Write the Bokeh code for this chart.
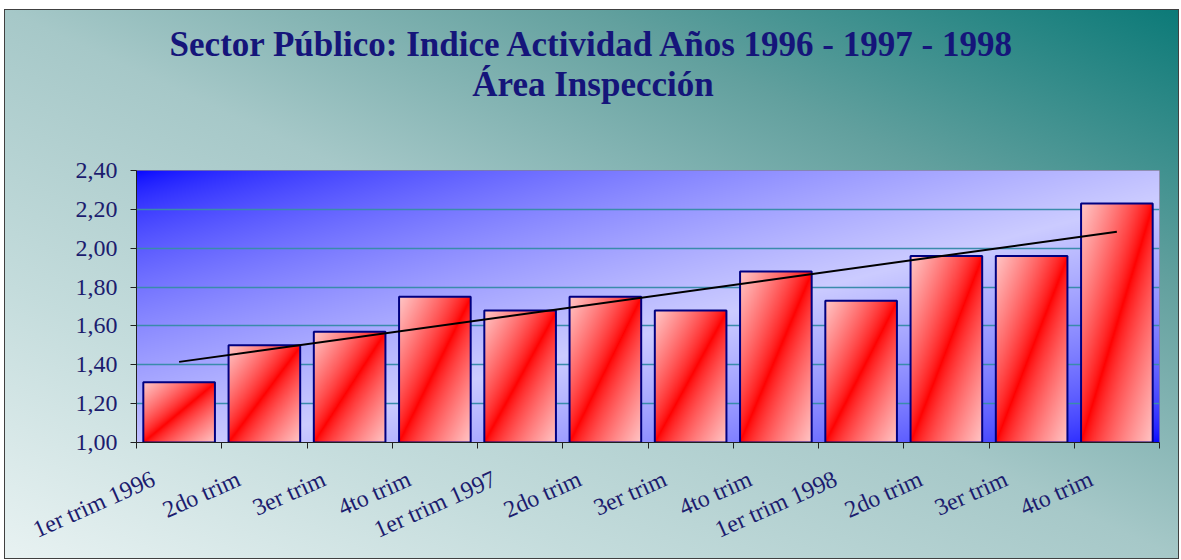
import numpy as np
from bokeh.plotting import figure
from bokeh.layouts import column
from bokeh.models import FixedTicker, Label, Range1d
from bokeh.embed import file_html
from bokeh.resources import INLINE

# ---------------- data ----------------
categories = ["1er trim 1996", "2do trim", "3er trim", "4to trim",
              "1er trim 1997", "2do trim", "3er trim", "4to trim",
              "1er trim 1998", "2do trim", "3er trim", "4to trim"]
values = [1.31, 1.50, 1.57, 1.75, 1.68, 1.75, 1.68, 1.88, 1.73, 1.96, 1.96, 2.23]
y_ticks = [1.0, 1.2, 1.4, 1.6, 1.8, 2.0, 2.2, 2.4]
y_tick_labels = ["1,00", "1,20", "1,40", "1,60", "1,80", "2,00", "2,20", "2,40"]
title_line1 = "Sector Público: Indice Actividad Años 1996 - 1997 - 1998"
title_line2 = "Área Inspección"

# ---------------- layout constants ----------------
W, H = 1173, 548           # whole chart box
HT = 100                   # title strip height
H2 = H - HT                # plot figure height
ML, MR, MT, MB = 131, 19, 60, 116
FW, FH = W - ML - MR, H2 - MT - MB
STEP = 10                  # x units per category
BAR_W = 8.4
Y0, Y1 = 1.0, 2.4
X0, X1 = 0, STEP * len(categories)
TXT = "#1c1c6e"
TITLE_C = "#15157a"

n = len(categories)
centers = [STEP * i + STEP / 2 for i in range(n)]
label_ticks = [STEP * i + 2 for i in range(n)]
boundaries = [STEP * i for i in range(n + 1)]

# ---------------- title strip ----------------
t = figure(width=W, height=HT, output_backend="svg", toolbar_location=None,
           x_range=Range1d(ML, W - MR), y_range=Range1d(0, HT),
           x_axis_type=None, y_axis_type=None,
           min_border_left=ML, min_border_right=MR,
           min_border_top=0, min_border_bottom=0)
t.grid.visible = False
t.outline_line_color = None
t.border_fill_color = None
t.background_fill_color = None
for txt, base in ((title_line1, 34), (title_line2, 74)):
    t.add_layout(Label(x=W / 2 + 1, y=HT - base, text=txt, text_align="center",
                       text_baseline="alphabetic", text_font="Liberation Serif",
                       text_font_style="bold", text_font_size="35px",
                       text_color=TITLE_C))

# ---------------- chart ----------------
p = figure(width=W, height=H2, output_backend="svg", toolbar_location=None,
           x_range=Range1d(X0, X1), y_range=Range1d(Y0, Y1),
           min_border_left=ML, min_border_right=MR,
           min_border_top=MT, min_border_bottom=MB)
p.border_fill_color = None
p.background_fill_color = None
p.outline_line_color = "#80809a"
p.outline_line_width = 1

# frame gradient: blue corners, light diagonal band
u = (np.arange(FW) + 0.5) / FW
vt = 1 - (np.arange(FH) + 0.5) / FH          # row 0 = bottom
U, V = np.meshgrid(u, vt)
s = (U + V) / 2
c = 0.55
f = np.where(s < c, s / c, (1 - s) / (1 - c))
f = np.clip(f, 0, 1) ** 0.6
blue = np.array([0, 0, 255.0])
light = np.array([204, 204, 255.0])
rgb = blue[None, None, :] + (light - blue)[None, None, :] * f[..., None]
bg = np.empty((FH, FW), dtype=np.uint32)
bv = bg.view(dtype=np.uint8).reshape((FH, FW, 4))
bv[..., :3] = rgb.astype(np.uint8)
bv[..., 3] = 255
p.image_rgba(image=[bg], x=X0, y=Y0, dw=X1 - X0, dh=Y1 - Y0, level="image")

# grid
p.xgrid.visible = False
p.ygrid.ticker = FixedTicker(ticks=y_ticks)
p.ygrid.grid_line_color = "#3a8bab"
p.ygrid.grid_line_width = 1.5

# bars with diagonal red gradient
px_per_x = FW / (X1 - X0)
px_per_y = FH / (Y1 - Y0)
bar_imgs = []
for v in values:
    bw = max(2, int(round(BAR_W * px_per_x)))
    bh = max(2, int(round((v - Y0) * px_per_y)))
    uu = (np.arange(bw) + 0.5) / bw
    vv = 1 - (np.arange(bh) + 0.5) / bh
    UU, VV = np.meshgrid(uu, vv)
    ss = (UU + VV) / 2
    ff = np.abs(2 * ss - 1) ** 0.75
    img = np.empty((bh, bw), dtype=np.uint32)
    iv = img.view(dtype=np.uint8).reshape((bh, bw, 4))
    iv[..., 0] = 255
    iv[..., 1] = (200 * ff).astype(np.uint8)
    iv[..., 2] = (200 * ff).astype(np.uint8)
    iv[..., 3] = 255
    bar_imgs.append(img)

p.image_rgba(image=bar_imgs, x=[cx - BAR_W / 2 for cx in centers], y=[Y0] * n,
             dw=[BAR_W] * n, dh=[v - Y0 for v in values])
p.vbar(x=centers, top=values, bottom=Y0, width=BAR_W,
       fill_color=None, line_color="#000080", line_width=2)

# linear trend line
idx = np.arange(1, n + 1)
k, b0 = np.polyfit(idx, values, 1)
trend = k * idx + b0
p.line(x=[centers[0], centers[-1]], y=[trend[0], trend[-1]],
       line_color="black", line_width=2)

# axes
ya = p.yaxis[0]
ya.ticker = FixedTicker(ticks=y_ticks)
ya.major_label_overrides = {tk: lb for tk, lb in zip(y_ticks, y_tick_labels)}
ya.major_label_text_font = "Liberation Serif"
ya.major_label_text_font_size = "24px"
ya.major_label_text_color = TXT
ya.major_tick_out = 6
ya.major_tick_in = 0
ya.minor_tick_out = 0
ya.minor_tick_in = 0
ya.major_label_standoff = 13
ya.axis_line_color = "#202020"
ya.major_tick_line_color = "#202020"

xa = p.xaxis[0]
xa.ticker = FixedTicker(ticks=label_ticks, minor_ticks=boundaries)
xa.major_label_overrides = {tk: lb for tk, lb in zip(label_ticks, categories)}
xa.major_label_orientation = 0.42
xa.major_label_text_font = "Liberation Serif"
xa.major_label_text_font_size = "24px"
xa.major_label_text_color = TXT
xa.major_tick_out = 0
xa.major_tick_in = 0
xa.minor_tick_out = 6
xa.minor_tick_in = 0
xa.major_label_standoff = 29
xa.axis_line_color = "#202020"
xa.minor_tick_line_color = "#202020"

layout = column(t, p, spacing=0)
layout.styles = {
    "margin-left": "5px",
    "margin-top": "10px",
    "background-image": "linear-gradient(to top right, #e8f2f2 0%, #c4dcdc 25%, #a6c8c8 50%, #62a09e 75%, #0c7a78 100%)",
    "box-shadow": "0 0 0 1px #404040",
}

open("out.html", "w").write(file_html(layout, INLINE))
